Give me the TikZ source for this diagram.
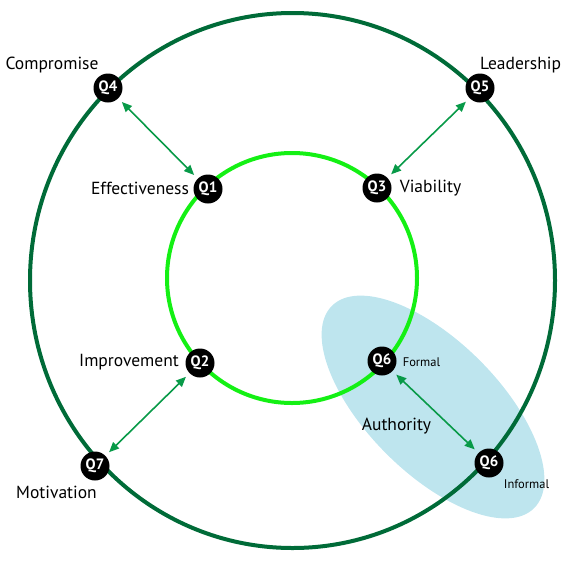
\documentclass[tikz,border=0pt]{standalone}
\usepackage{fontspec}
\setmainfont{PT Sans}
\usetikzlibrary{arrows.meta}
\definecolor{outerg}{HTML}{006B38}
\definecolor{innerg}{HTML}{14F014}
\definecolor{arrg}{HTML}{089A48}
\definecolor{authb}{HTML}{BEE5EE}
\tikzset{
  q/.style={circle, fill=black, text=white, minimum size=29pt, inner sep=0pt, font=\fontsize{15}{16}\selectfont\bfseries},
  lbl/.style={inner sep=0pt, font=\fontsize{17.5}{19}\selectfont},
  small/.style={inner sep=0pt, font=\fontsize{12.5}{14}\selectfont},
  arr/.style={draw=arrg, line width=1.6pt, {Triangle[length=10pt,width=8.5pt]}-{Triangle[length=10pt,width=8.5pt]}, shorten >=5pt, shorten <=5pt}
}
\begin{document}
\begin{tikzpicture}[x=1pt,y=-1pt]
\useasboundingbox (0,0) rectangle (573,563);
\fill[authb, shift={(433,407)}, rotate=-45] (0,0) ellipse [x radius=143pt, y radius=66pt];
\draw[outerg, line width=4pt] (292.5,280.5) ellipse [x radius=262.5pt, y radius=267.5pt];
\draw[innerg, line width=4pt] (292,278) circle [radius=125pt];
\node[q] (q4) at (108,88) {Q4};
\node[q] (q1) at (208,189) {Q1};
\node[q] (q5) at (480,88) {Q5};
\node[q] (q3) at (377,188) {Q3};
\node[q] (q2) at (200,363) {Q2};
\node[q] (q7) at (95,466) {Q7};
\node[q] (q6f) at (382,361) {Q6};
\node[q] (q6i) at (489,463) {Q6};
\draw[arr] (q4) -- (q1);
\draw[arr] (q5) -- (q3);
\draw[arr] (q2) -- (q7);
\draw[arr] (q6f) -- (q6i);
\node[lbl] (lcomp) at (52,65) {Compromise};
\node[lbl] (leff) at (140,188) {Effectiveness};
\node[lbl] (llead) at (520.5,65) {Leadership};
\node[lbl] (lvia) at (430.5,188) {Viability};
\node[lbl] (limp) at (129,362) {Improvement};
\node[lbl] (lmot) at (56.5,492) {Motivation};
\node[lbl] (lauth) at (396.5,426) {Authority};
\node[small] (lform) at (421.5,362) {Formal};
\node[small] (linf) at (526.5,484) {Informal};
\end{tikzpicture}
\end{document}
